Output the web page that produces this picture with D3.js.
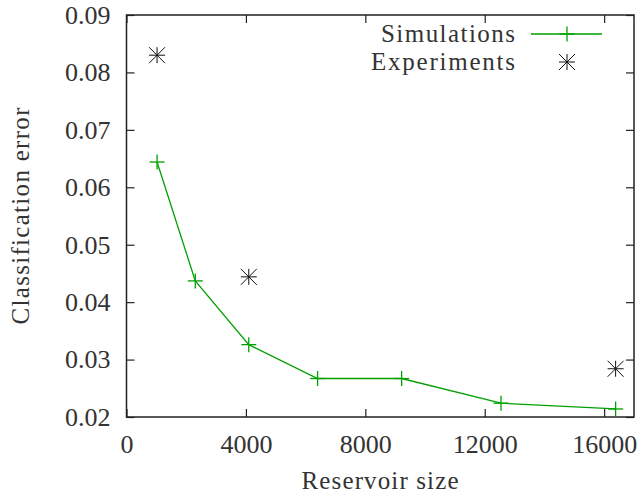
<!DOCTYPE html>
<html>
<head>
<meta charset="utf-8">
<script src="https://cdn.jsdelivr.net/npm/d3@7"></script>
<style>
  body { margin: 0; background: #fff; }
  text { font-family: "Liberation Serif", "Times New Roman", serif; fill: #333; }
</style>
</head>
<body>
<svg id="viz"></svg>
<script>
// chart size
var width = 638,
	height = 496;

// reservoir sizes (squares of 32..128)
var simSizes = [1024, 2304, 4096, 6400, 9216, 12544, 16384];
var simErrors = [0.0644, 0.0437, 0.0326, 0.0267, 0.0267, 0.0224, 0.0214];

var expSizes = [1024, 4096, 16384];
var expErrors = [0.0830, 0.0444, 0.0284];

var xTicks = [0, 4000, 8000, 12000, 16000];
var yTicks = [0.02, 0.03, 0.04, 0.05, 0.06, 0.07, 0.08, 0.09];

var green = "#00a000";
var serif = '"Liberation Serif", "Times New Roman", serif';

// plot frame
var plotLeft = 126.5, plotRight = 634, plotTop = 15, plotBottom = 417;

var svg = d3.select("#viz").attr("width", width).attr("height", height);

var x = d3.scaleLinear().domain([0, 17000]).range([plotLeft, plotRight]);
var y = d3.scaleLinear().domain([0.02, 0.09]).range([plotBottom, plotTop]);

// axes, ticks pointing inward and mirrored on the other side
svg.append("g")
	.attr("transform", "translate(0," + plotBottom + ")")
	.call(d3.axisBottom(x).tickValues(xTicks).tickSize(-8).tickPadding(18).tickFormat(d3.format("d")));
svg.append("g")
	.attr("transform", "translate(0," + plotTop + ")")
	.call(d3.axisTop(x).tickValues(xTicks).tickSize(-8).tickFormat(""));
svg.append("g")
	.attr("transform", "translate(" + plotLeft + ",0)")
	.call(d3.axisLeft(y).tickValues(yTicks).tickSize(-8).tickPadding(16).tickFormat(d3.format(".2f")));
svg.append("g")
	.attr("transform", "translate(" + plotRight + ",0)")
	.call(d3.axisRight(y).tickValues(yTicks).tickSize(-8).tickFormat(""));

svg.selectAll(".domain").remove();
svg.selectAll(".tick line").attr("stroke", "#222").attr("stroke-width", 1.2);
svg.selectAll(".tick text")
	.style("font-family", serif)
	.style("font-size", "26px")
	.attr("fill", "#333");

svg.append("rect")
	.attr("x", plotLeft).attr("y", plotTop)
	.attr("width", plotRight - plotLeft).attr("height", plotBottom - plotTop)
	.attr("fill", "none").attr("stroke", "#222").attr("stroke-width", 1.5);

// axis titles (stretched a bit, the original font is wider)
svg.append("text")
	.attr("x", 380).attr("y", 489)
	.attr("text-anchor", "middle")
	.attr("textLength", 157)
	.style("font-size", "25px")
	.text("Reservoir size");
svg.append("text")
	.attr("transform", "translate(29,216) rotate(-90)")
	.attr("text-anchor", "middle")
	.attr("textLength", 217)
	.style("font-size", "25px")
	.text("Classification error");

// marker shapes
function plus(g, s) {
	g.append("line").attr("x1", -s).attr("x2", s).attr("y1", 0).attr("y2", 0);
	g.append("line").attr("x1", 0).attr("x2", 0).attr("y1", -s).attr("y2", s);
}
function star(g, s) {
	plus(g, s);
	g.append("line").attr("x1", -s).attr("x2", s).attr("y1", -s).attr("y2", s);
	g.append("line").attr("x1", -s).attr("x2", s).attr("y1", s).attr("y2", -s);
}

var simData = simSizes.map(function(d, i) { return [d, simErrors[i]]; });
var expData = expSizes.map(function(d, i) { return [d, expErrors[i]]; });

// simulation line
svg.append("path")
	.datum(simData)
	.attr("fill", "none")
	.attr("stroke", green)
	.attr("stroke-width", 1.3)
	.attr("d", d3.line().x(function(d) { return x(d[0]); }).y(function(d) { return y(d[1]); }));

svg.append("g").selectAll("g")
	.data(simData)
	.enter()
	.append("g")
	.attr("transform", function(d) { return "translate(" + x(d[0]) + "," + y(d[1]) + ")"; })
	.attr("stroke", green).attr("stroke-width", 1.3)
	.each(function() { plus(d3.select(this), 7.5); });

svg.append("g").selectAll("g")
	.data(expData)
	.enter()
	.append("g")
	.attr("transform", function(d) { return "translate(" + x(d[0]) + "," + y(d[1]) + ")"; })
	.attr("stroke", "#111").attr("stroke-width", 1)
	.each(function() { star(d3.select(this), 8); });

// legend
var legend = svg.append("g");
legend.append("text").attr("x", 515).attr("y", 42).attr("text-anchor", "end")
	.attr("textLength", 134)
	.style("font-size", "25px").text("Simulations");
legend.append("line").attr("x1", 531).attr("x2", 602).attr("y1", 34).attr("y2", 34)
	.attr("stroke", green).attr("stroke-width", 1.3);
plus(legend.append("g").attr("transform", "translate(567,34)").attr("stroke", green).attr("stroke-width", 1.3), 7.5);
legend.append("text").attr("x", 515).attr("y", 70).attr("text-anchor", "end")
	.attr("textLength", 144)
	.style("font-size", "25px").text("Experiments");
star(legend.append("g").attr("transform", "translate(567,62)").attr("stroke", "#111").attr("stroke-width", 1), 8);
</script>
</body>
</html>
